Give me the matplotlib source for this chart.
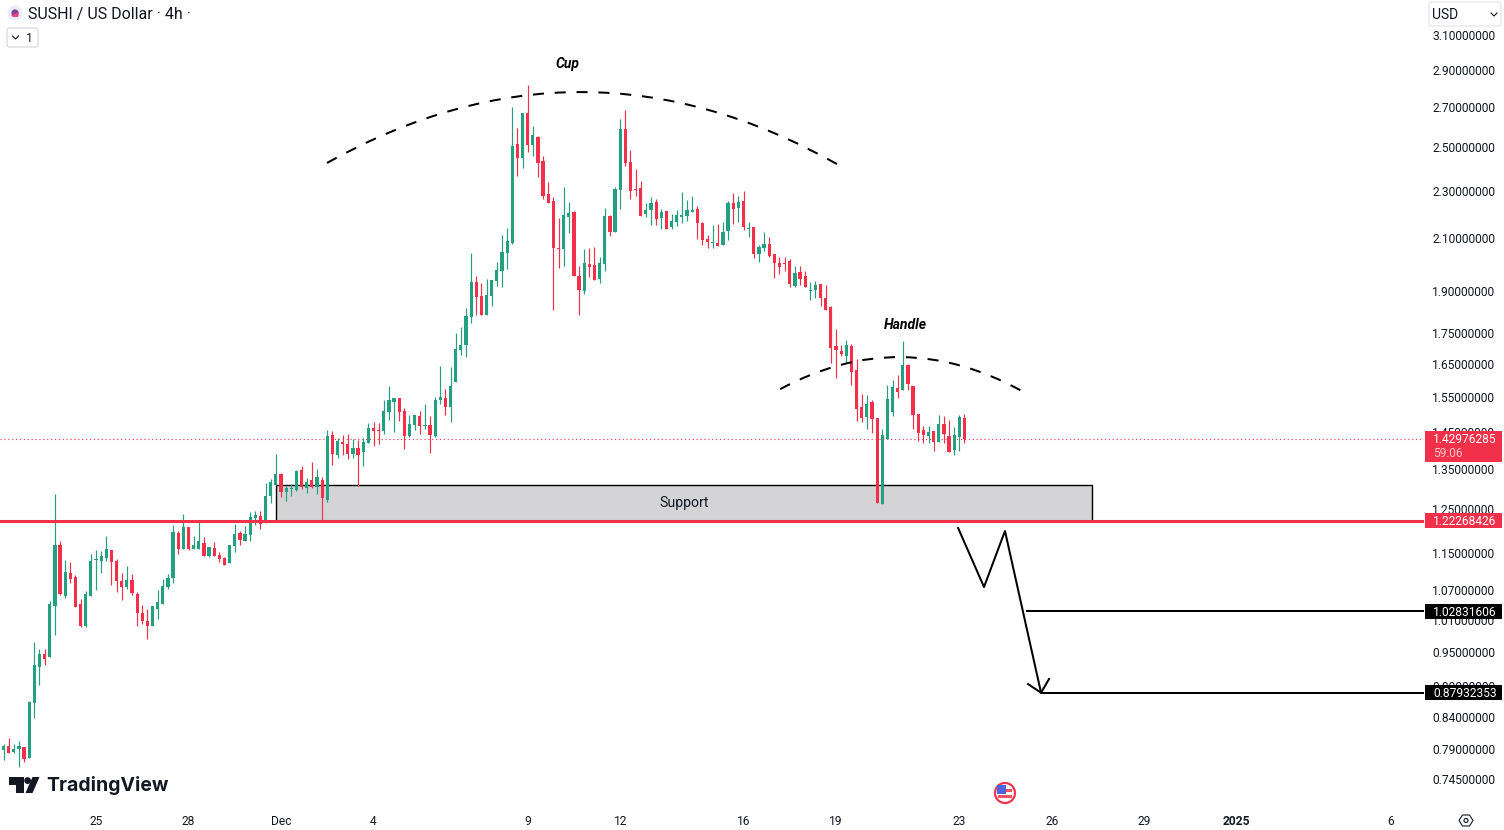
import numpy as np
import matplotlib
matplotlib.use('Agg')
import matplotlib.pyplot as plt
from matplotlib.patches import Rectangle, PathPatch, Polygon, Circle, FancyBboxPatch
from matplotlib.path import Path
from matplotlib.transforms import IdentityTransform

plt.rcParams['font.family'] = ['Roboto', 'DejaVu Sans']

# 4h candles, first one is Nov 21 20:00, x axis is days from Dec 1
first_bar_day = -9.1667

opens = [
    .7805, .788, .794, .785, .7895, .7925, .776, .8622, .9238, .9472,
    .9417, 1.0383, 1.167, 1.0585, 1.106, 1.0976, 1.0423, .9993, 1.0585, 1.134,
    1.1317, 1.138, 1.1558, 1.1317, 1.0892, 1.0768, 1.0913, 1.0625, 1.0244, 1.0089,
    .9993, 1.0323, 1.0423, 1.0768, 1.0955, 1.1941, 1.158, 1.2079, 1.158, 1.158,
    1.1715, 1.1426, 1.1603, 1.1448, 1.1382, 1.1274, 1.1648, 1.1941, 1.176, 1.1896,
    1.2289, 1.2336, 1.2171, 1.2818, 1.3092, 1.337, 1.2916, 1.2991, 1.2966, 1.3473,
    1.3016, 1.3217, 1.3041, 1.3217, 1.272, 1.4407, 1.3866, 1.4216, 1.4161, 1.3893,
    1.4052, 1.3946, 1.4188, 1.4602, 1.4546, 1.4518, 1.5056, 1.5347, 1.5465, 1.5085,
    1.438, 1.4688, 1.4941, 1.466, 1.4688, 1.438, 1.5406, 1.5465, 1.52, 1.5947,
    1.6956, 1.7119, 1.806, 1.9315, 1.8804, 1.813, 1.8804, 1.9353, 1.9727, 2.042,
    2.0815, 2.5165, 2.4497, 2.6702, 2.5115, 2.5505, 2.4356, 2.2864, 2.256, 2.0617,
    2.0577, 2.1877, 2.2089, 1.954, 1.8985, 1.999, 1.9954, 1.9427, 1.999, 2.192,
    2.1258, 2.304, 2.5897, 2.4309, 2.3085, 2.3128, 2.2004, 2.2174, 2.2516, 2.1837,
    2.2131, 2.1463, 2.1669, 2.1877, 2.192, 2.2089, 2.2217, 2.1628, 2.0975, 2.0815,
    2.0815, 2.0735, 2.13, 2.2473, 2.2259, 2.256, 2.1381, 2.1463, 2.0381, 2.0617,
    2.0775, 2.0381, 2.003, 2.003, 2.0109, 1.9168, 1.969, 1.954, 1.8985, 1.9022,
    1.924, 1.8733, 1.8411, 1.7087, 1.6923, 1.6758, 1.7087, 1.6318, 1.5202, 1.4912,
    1.5346, 1.4884, 1.2622, 1.4297, 1.5056, 1.5764, 1.5704, 1.6475, 1.5825, 1.4999,
    1.4546, 1.438, 1.4518, 1.4216, 1.4716, 1.438, 1.3999, 1.4352, 1.4884,
]
highs = [
    .795, .797, .8063, .797, .8017, .7925, .8655, .9692, .9562, .9562,
    1.0483, 1.2867, 1.176, 1.134, 1.1296, 1.1018, 1.0523, 1.0686, 1.147, 1.1558,
    1.1536, 1.1873, 1.1558, 1.136, 1.106, 1.121, 1.104, 1.0665, 1.0403, 1.0323,
    1.0383, 1.0706, 1.0934, 1.104, 1.2125, 1.1987, 1.2383, 1.2079, 1.1873, 1.2195,
    1.185, 1.1625, 1.1738, 1.1514, 1.1404, 1.167, 1.2148, 1.1987, 1.2102, 1.2431,
    1.2455, 1.2455, 1.3142, 1.3243, 1.3893, 1.3396, 1.3066, 1.3117, 1.3473, 1.3574,
    1.327, 1.368, 1.3499, 1.3294, 1.4546, 1.4518, 1.4325, 1.4407, 1.4435, 1.4297,
    1.427, 1.4325, 1.4743, 1.4771, 1.4743, 1.5406, 1.5825, 1.5465, 1.5465, 1.5172,
    1.497, 1.497, 1.5085, 1.5287, 1.4941, 1.5495, 1.6444, 1.5734, 1.6412, 1.7516,
    1.772, 1.8378, 2.042, 1.954, 1.9277, 1.9427, 1.939, 2.0071, 2.1137, 2.1422,
    2.7016, 2.5949, 2.6702, 2.817, 2.605, 2.5555, 2.459, 2.3396, 2.2733, 2.1837,
    2.3173, 2.2516, 2.2131, 1.9916, 2.0577, 2.0617, 2.0657, 2.0264, 2.2259, 2.1963,
    2.3173, 2.6397, 2.6857, 2.4876, 2.3986, 2.3441, 2.2473, 2.2733, 2.2646, 2.2217,
    2.2131, 2.2004, 2.2174, 2.2952, 2.2603, 2.2777, 2.2345, 2.1669, 2.1137, 2.1546,
    2.1586, 2.1669, 2.256, 2.2908, 2.2777, 2.2996, 2.1669, 2.1463, 2.0735, 2.1258,
    2.1056, 2.0381, 2.0264, 2.0264, 2.0186, 1.9916, 1.9916, 1.9727, 1.9315, 1.9353,
    1.924, 1.9204, 1.8447, 1.7652, 1.7119, 1.7284, 1.7153, 1.6666, 1.5585, 1.5555,
    1.5406, 1.4884, 1.4574, 1.5855, 1.6008, 1.6162, 1.7251, 1.6507, 1.5825, 1.4999,
    1.466, 1.466, 1.4518, 1.497, 1.4941, 1.4827, 1.4631, 1.497, 1.4999,
]
lows = [
    .778, .773, .7835, .783, .7632, .770, .776, .8378, .8925, .9274,
    .9417, .9822, 1.0605, 1.0543, 1.085, 1.0363, .9974, .9974, 1.0585, 1.0706,
    1.106, 1.1317, 1.0809, 1.0665, 1.0503, 1.0727, 1.0605, .9993, 1.0031, .9747,
    .9993, 1.0127, 1.0423, 1.0727, 1.085, 1.147, 1.158, 1.1558, 1.158, 1.158,
    1.1426, 1.1404, 1.1426, 1.1296, 1.1231, 1.1274, 1.1514, 1.167, 1.176, 1.176,
    1.2125, 1.2033, 1.2171, 1.2647, 1.3092, 1.2794, 1.2696, 1.2818, 1.2941, 1.2991,
    1.2892, 1.3016, 1.2867, 1.2242, 1.2671, 1.3603, 1.3786, 1.3866, 1.3759, 1.3786,
    1.3066, 1.3574, 1.4188, 1.4106, 1.4161, 1.4435, 1.4827, 1.449, 1.48, 1.4026,
    1.4352, 1.4546, 1.4435, 1.4574, 1.392, 1.4352, 1.5287, 1.497, 1.4771, 1.5947,
    1.6796, 1.6731, 1.7856, 1.813, 1.813, 1.813, 1.8447, 1.9168, 1.9132, 1.98,
    2.0776, 2.3667, 2.403, 2.478, 2.459, 2.362, 2.265, 2.2473, 1.8307, 1.984,
    1.9916, 2.1217, 1.954, 1.813, 1.8877, 1.9503, 1.939, 1.9278, 1.9727, 2.1096,
    2.1258, 2.2217, 2.4123, 2.2646, 2.2777, 2.192, 2.1877, 2.1546, 2.1546, 2.1381,
    2.1381, 2.1381, 2.1505, 2.1628, 2.1711, 2.2089, 2.0975, 2.0735, 2.0617, 2.0617,
    2.0695, 2.0735, 2.0935, 2.1586, 2.1669, 2.134, 2.1056, 2.022, 2.0071, 2.0498,
    2.0264, 1.9465, 1.9615, 1.9727, 1.9132, 1.9132, 1.9204, 1.9132, 1.8661, 1.8733,
    1.8447, 1.8307, 1.654, 1.607, 1.6758, 1.657, 1.5855, 1.4799, 1.4771, 1.4574,
    1.4463, 1.2647, 1.2622, 1.4297, 1.4941, 1.5465, 1.5704, 1.5704, 1.4574, 1.4243,
    1.4188, 1.4188, 1.3972, 1.4216, 1.4188, 1.3946, 1.3866, 1.3972, 1.4188,
]
closes = [
    .7895, .794, .7835, .7895, .794, .7745, .864, .9274, .9472, .9381,
    1.0423, 1.167, 1.0625, 1.108, 1.0934, 1.0363, .9993, 1.0625, 1.1317, 1.136,
    1.1426, 1.158, 1.1296, 1.0892, 1.0768, 1.0913, 1.0645, 1.0244, 1.0089, .9993,
    1.0383, 1.0463, 1.0788, 1.0955, 1.1964, 1.158, 1.2079, 1.158, 1.167, 1.176,
    1.1426, 1.1625, 1.1426, 1.136, 1.1231, 1.167, 1.1919, 1.1782, 1.1919, 1.2313,
    1.236, 1.2148, 1.2818, 1.3167, 1.337, 1.2916, 1.3016, 1.3016, 1.3447, 1.3041,
    1.3167, 1.3041, 1.3294, 1.277, 1.438, 1.3893, 1.4243, 1.4161, 1.3893, 1.4052,
    1.3866, 1.4216, 1.4602, 1.4518, 1.4518, 1.5085, 1.5406, 1.5465, 1.5056, 1.438,
    1.4716, 1.497, 1.466, 1.4688, 1.4407, 1.5406, 1.5495, 1.52, 1.5825, 1.6988,
    1.712, 1.8097, 1.9315, 1.8768, 1.813, 1.884, 1.939, 1.9765, 2.0458, 2.0895,
    2.5045, 2.4497, 2.6702, 2.5115, 2.56, 2.4263, 2.278, 2.2473, 2.0617, 2.0577,
    2.1963, 2.2046, 1.954, 1.9022, 2.003, 1.988, 1.939, 2.003, 2.192, 2.1258,
    2.3085, 2.5897, 2.4263, 2.2996, 2.304, 2.192, 2.2174, 2.2473, 2.1795, 2.2089,
    2.1381, 2.1711, 2.1963, 2.1963, 2.2174, 2.2174, 2.1628, 2.0935, 2.0855, 2.0855,
    2.0695, 2.1258, 2.2473, 2.2217, 2.2516, 2.1463, 2.1422, 2.0381, 2.0657, 2.0775,
    2.0303, 2.003, 1.988, 1.999, 1.924, 1.9652, 1.9427, 1.9132, 1.9022, 1.9204,
    1.8733, 1.8307, 1.7021, 1.6956, 1.6825, 1.7119, 1.6256, 1.5144, 1.4884, 1.5287,
    1.4855, 1.2647, 1.4407, 1.5435, 1.5795, 1.5644, 1.6475, 1.5886, 1.497, 1.4463,
    1.4407, 1.449, 1.4216, 1.4716, 1.4435, 1.3946, 1.4407, 1.4912, 1.42976,
]

price_ticks = [3.10, 2.90, 2.70, 2.50, 2.30, 2.10, 1.90, 1.75, 1.65, 1.55, 1.45,
               1.35, 1.25, 1.15, 1.07, 1.01, 0.95, 0.89, 0.84, 0.79, 0.745]
date_days = [-6, -3, 0, 3, 8, 11, 15, 18, 22, 25, 28, 31, 36]
date_labels = ['25', '28', 'Dec', '4', '9', '12', '16', '19', '23', '26', '29', '2025', '6']

last_price = 1.42976285
support_price = 1.22268426
target_1 = 1.02831606
target_2 = 0.87932353
support_top = 1.309

# drawings, (day, price)
cup_arc = [(1.49, 2.426), (9.76, 3.187), (18.03, 2.421)]
handle_arc = [(16.19, 1.573), (20.11, 1.782), (24.03, 1.567)]
move_days = [21.96, 22.80, 23.48, 24.65]
move_prices = [1.2056, 1.0767, 1.1987, 0.8793]
head_days = [24.23, 24.65, 24.91]
head_prices = [0.894, 0.8793, 0.9028]

W, H = 1504, 830
UP = '#22a07f'
DOWN = '#f23049'
INK = '#131722'

fig = plt.figure(figsize=(W / 100, H / 100), dpi=100, facecolor='white')
# pane goes from x=0 to 1424 and y=0 to 806 in pixels
ax = fig.add_axes([0, 24 / H, 1424 / W, 806 / H])
ax.set_yscale('log')
ax.set_xlim(-9.114, 37.07)
ax.set_ylim(0.7078, 3.315)
for s in ax.spines.values():
    s.set_visible(False)

days = first_bar_day + np.arange(len(opens)) / 6
o = np.array(opens)
c = np.array(closes)
colors = np.where(c >= o, UP, DOWN)
ax.vlines(days, lows, highs, colors=colors, lw=0.85, zorder=3)
body_low = np.minimum(o, c)
body_high = np.maximum(o, c)
ax.bar(days, body_high - body_low, bottom=body_low, width=0.105, color=colors, lw=0, zorder=4)

ax.add_patch(Rectangle((-0.16, support_price), 26.46, support_top - support_price,
                       facecolor='#d4d4d6', edgecolor='black', lw=1.0, zorder=2))
ax.text(13.07, 1.264, 'Support', ha='center', va='center', fontsize=10.2, color=INK, zorder=5)

ax.axhline(last_price, color=DOWN, lw=0.8, ls=(0, (1, 2.5)), zorder=2)
ax.axhline(support_price, color=DOWN, lw=2.2, zorder=6)
ax.hlines(target_1, 24.17, 37.07, color='black', lw=1.45, zorder=6)
ax.hlines(target_2, 24.65, 37.07, color='black', lw=1.45, zorder=6)

for arc in (cup_arc, handle_arc):
    ax.add_patch(PathPatch(Path(arc, [Path.MOVETO, Path.CURVE3, Path.CURVE3]), fill=False,
                           edgecolor='black', lw=1.45, ls=(0, (5.5, 5.35)), zorder=6))
ax.plot(move_days, move_prices, color='black', lw=1.45, zorder=6)
ax.plot(head_days, head_prices, color='black', lw=1.45, zorder=6)

ax.text(9.28, 2.932, 'Cup', ha='center', va='center', fontsize=10, style='italic', weight='bold', color='black')
ax.text(20.24, 1.779, 'Handle', ha='center', va='center', fontsize=10.1, style='italic', weight='bold', color='black')

ax.yaxis.tick_right()
ax.set_yticks(price_ticks)
ax.set_yticklabels(['%.8f' % p for p in price_ticks], fontsize=8.64, color=INK)
ax.yaxis.set_minor_locator(matplotlib.ticker.NullLocator())
ax.tick_params(axis='y', length=0, pad=5.8)
ax.set_xticks(date_days)
ax.set_xticklabels(date_labels, fontsize=8.64, color=INK)
ax.get_xticklabels()[date_labels.index('2025')].set_weight('bold')
ax.tick_params(axis='x', length=0, pad=6.4)


def px(x, y):
    # pixel from the top left of the picture to display coords
    return (x, H - y)


def add_px(patch):
    fig.add_artist(patch)
    patch.set_transform(IdentityTransform())
    return patch


def ftext(x, y, s, **kw):
    fig.text(x / W, 1 - y / H, s, va='center', **kw)


def price_tag(price, color, label, height=15, extra=None):
    y = H - ax.transData.transform((0, price))[1]
    top = y - height / 2
    if extra:
        top = y - 8
    add_px(Rectangle(px(1425, top + height), 77, height, facecolor=color, edgecolor='none'))
    ftext(1433, y + 1, label, ha='left', fontsize=8.64, color='white')
    if extra:
        ftext(1433, y + 15, extra, ha='left', fontsize=8.64, color='#fbc4cc')


price_tag(last_price, DOWN, '1.42976285', height=31, extra='59:06')
price_tag(support_price, DOWN, '1.22268426')
price_tag(target_1, 'black', '1.02831606')
price_tag(target_2, 'black', '0.87932353')

# header
add_px(Circle(px(15, 13), 7.5, facecolor='#ecebf8', edgecolor='none'))
add_px(Circle(px(15, 13), 3.6, facecolor='#7d3f9c', edgecolor='none'))
add_px(Polygon([px(11, 15), px(19, 12), px(18, 17), px(13, 17)], facecolor='#e8417f', edgecolor='none'))
ftext(28, 14.5, 'SUSHI / US Dollar · 4h ·', ha='left', fontsize=11.5, color=INK)
add_px(FancyBboxPatch(px(7, 47), 31, 19, boxstyle='round,pad=0,rounding_size=2.5',
                      facecolor='white', edgecolor='#d1d4dc', lw=0.8))
fig.add_artist(plt.Line2D([12.5, 15.5, 18.5], [H - 36, H - 39, H - 36], color=INK, lw=0.8,
                          transform=IdentityTransform()))
ftext(26, 38.5, '1', ha='left', fontsize=8.64, color=INK)

# USD box
add_px(FancyBboxPatch(px(1429, 26), 72, 24, boxstyle='round,pad=0,rounding_size=3',
                      facecolor='white', edgecolor='#e0e3eb', lw=0.8))
ftext(1432, 15, 'USD', ha='left', fontsize=10, color=INK)
fig.add_artist(plt.Line2D([1491, 1494, 1497], [H - 13, H - 16, H - 13], color=INK, lw=0.8,
                          transform=IdentityTransform()))

# TradingView logo
add_px(Polygon([px(9, 777), px(24, 777), px(24, 793), px(16, 793), px(16, 785), px(9, 785)],
               facecolor=INK, edgecolor='none'))
add_px(Circle(px(27.6, 780.6), 3.4, facecolor=INK, edgecolor='none'))
add_px(Polygon([px(32.5, 777), px(39.5, 777), px(32.5, 793), px(25.5, 793)], facecolor=INK, edgecolor='none'))
fig.text(46 / W, 1 - 785 / H, 'TradingView', ha='left', va='center', fontsize=14, weight='bold',
         family=['Inter', 'Roboto'], color=INK)

# flag icon
add_px(Circle(px(1005, 793), 10, facecolor='white', edgecolor='#f0364f', lw=1.6))
add_px(Rectangle(px(998, 798), 14, 3, facecolor='#f0525f', edgecolor='none'))
add_px(Rectangle(px(1004, 792), 8, 3, facecolor='#f0525f', edgecolor='none'))
add_px(Rectangle(px(997, 794), 9, 9, facecolor='#4d63e0', edgecolor='none'))

# settings icon
add_px(Polygon([px(1459, 820.5), px(1462.5, 815), px(1469.5, 815), px(1473, 820.5), px(1469.5, 826), px(1462.5, 826)],
               facecolor='white', edgecolor=INK, lw=0.8))
add_px(Circle(px(1466, 820.5), 2, facecolor='white', edgecolor=INK, lw=0.8))

fig.savefig('out.png', dpi=100)
